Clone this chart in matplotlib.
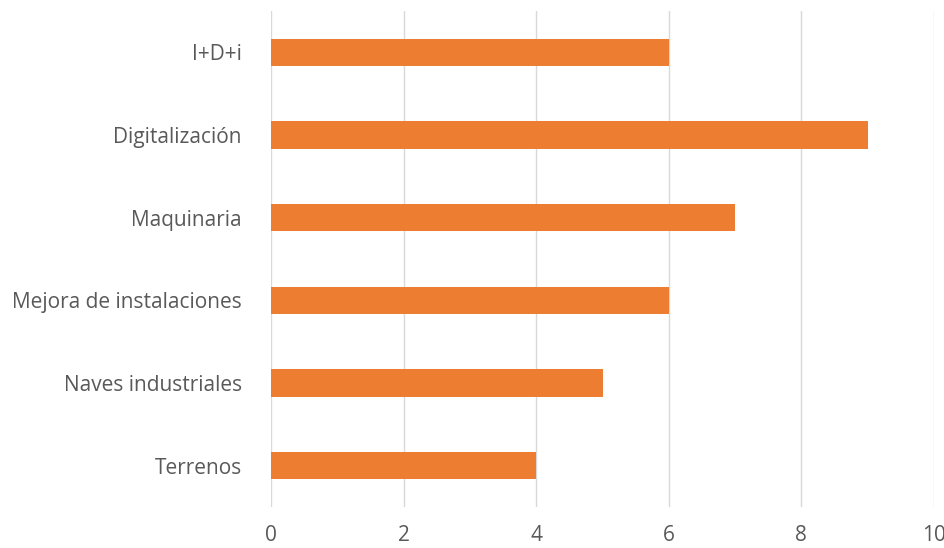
import matplotlib
matplotlib.use("Agg")
import matplotlib.pyplot as plt

categories = ["I+D+i", "Digitalización", "Maquinaria", "Mejora de instalaciones", "Naves industriales", "Terrenos"]
values = [6, 9, 7, 6, 5, 4]
xticks = [0, 2, 4, 6, 8, 10]

plt.rcParams['font.family'] = ['Open Sans', 'DejaVu Sans']

fig = plt.figure(figsize=(9.45, 5.48), dpi=100)
ax = fig.add_axes([271/945, 1 - 507/548, (934 - 271)/945, (507 - 11)/548])

ypos = list(range(len(categories)))[::-1]
ax.barh(ypos, values, height=0.33, color="#ED7D31", zorder=3)

ax.set_xlim(0, 10)
ax.set_ylim(-0.5, len(categories) - 0.5)
ax.set_xticks(xticks)
ax.set_xticklabels([str(t) for t in xticks])
ax.set_yticks(ypos)
ax.set_yticklabels(categories)

for s in ax.spines.values():
    s.set_visible(False)
ax.grid(axis="x", color="#D9D9D9", linewidth=1, zorder=0)
ax.tick_params(axis="both", length=0, labelsize=15, labelcolor="#595959")
ax.tick_params(axis="y", pad=21)
ax.tick_params(axis="x", pad=13)

fig.savefig("out.png", dpi=100)
